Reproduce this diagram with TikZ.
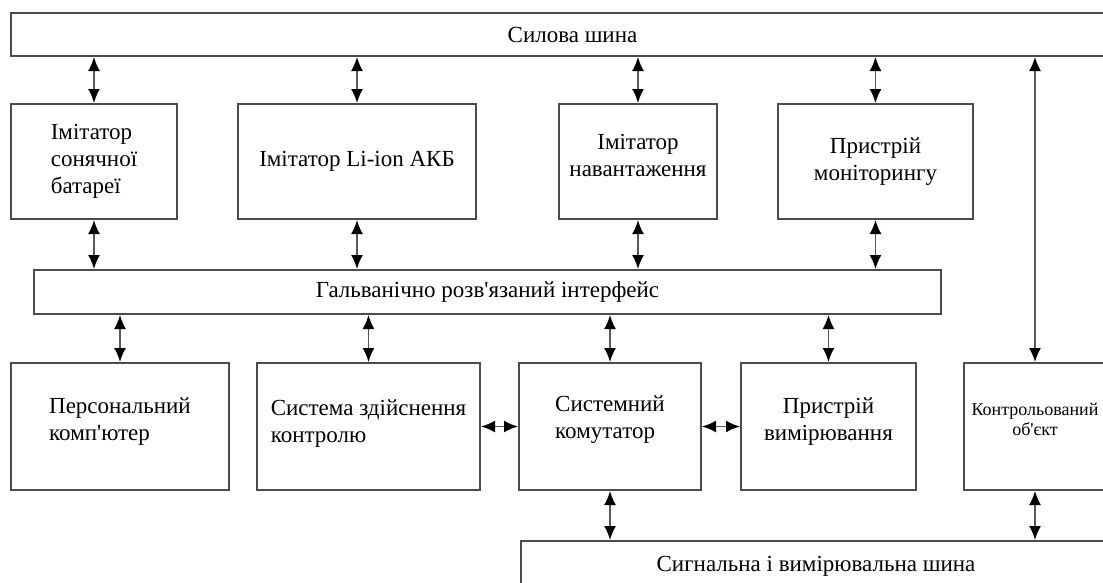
\documentclass[tikz,border=0pt]{standalone}
\usepackage{fontspec}
\setmainfont{Liberation Serif}
\usetikzlibrary{arrows.meta}

\tikzset{
    blok/.style={draw=black!70, line width=2pt, anchor=north west, inner sep=2pt,
        font=\fontsize{23}{27}\selectfont},
    zvjazok/.style={draw=black!65, line width=1.8pt,
        {Latex[length=14pt,width=12pt,color=black]}-{Latex[length=14pt,width=12pt,color=black]}}
}

\begin{document}
\begin{tikzpicture}[x=1pt, y=-1pt]
    \useasboundingbox (0,0) rectangle (1103,582);

    % Силова шина
    \node[blok, minimum width=1123pt, minimum height=43pt] (sil) at (10,12) {Силова шина};

    % Перший ряд блоків
    \node[blok, minimum width=166pt, minimum height=115pt, align=left] (sb) at (10,103) {Імітатор\\сонячної\\батареї};
    \node[blok, minimum width=238pt, minimum height=115pt] (akb) at (237,103) {Імітатор Li-ion АКБ};
    \node[blok, minimum width=158pt, minimum height=115pt, align=center] (nav) at (558,103) {Імітатор\\навантаження\\[-15pt]};
    \node[blok, minimum width=195pt, minimum height=115pt, align=center] (mon) at (777,103) {Пристрій\\моніторингу};

    % Інтерфейс
    \node[blok, minimum width=907pt, minimum height=44pt] (inter) at (33,269) {Гальванічно розв\textquotesingle язаний інтерфейс};

    % Другий ряд блоків
    \node[blok, minimum width=218pt, minimum height=127pt, align=left] (pk) at (10,362) {Персональний\\комп\textquotesingle ютер\\[-13pt]};
    \node[blok, minimum width=223pt, minimum height=127pt, align=left] (sk) at (256,362) {Система здійснення\\контролю\\[-16pt]};
    \node[blok, minimum width=182pt, minimum height=127pt, align=left] (kom) at (518,362) {Системний\\комутатор\\[-9pt]};
    \node[blok, minimum width=175pt, minimum height=127pt, align=center] (vym) at (740,362) {Пристрій\\вимірювання\\[-13pt]};
    \node[blok, minimum width=142pt, minimum height=127pt, align=center,
        font=\fontsize{18}{20}\selectfont] (ob) at (963,362) {Контрольований\\об\textquotesingle єкт\\[-5pt]};

    % Сигнальна і вимірювальна шина
    \node[blok, minimum width=590pt, minimum height=50pt] (sig) at (520,540) {Сигнальна і вимірювальна шина};

    % Зв'язки з силовою шиною
    \foreach \b in {sb, akb, nav, mon} {
        \draw[zvjazok] (\b.north |- sil.south) -- (\b.north);
        \draw[zvjazok] (\b.south) -- (\b.south |- inter.north);
    }
    \draw[zvjazok] (ob.north |- sil.south) -- (ob.north);

    % Зв'язки з інтерфейсом
    \foreach \b in {pk, sk, kom, vym}
        \draw[zvjazok] (\b.north |- inter.south) -- (\b.north);

    % Горизонтальні зв'язки
    \draw[zvjazok] (sk.east) -- (kom.west);
    \draw[zvjazok] (kom.east) -- (vym.west);

    % Зв'язки з сигнальною шиною
    \draw[zvjazok] (kom.south) -- (kom.south |- sig.north);
    \draw[zvjazok] (ob.south) -- (ob.south |- sig.north);
\end{tikzpicture}
\end{document}
